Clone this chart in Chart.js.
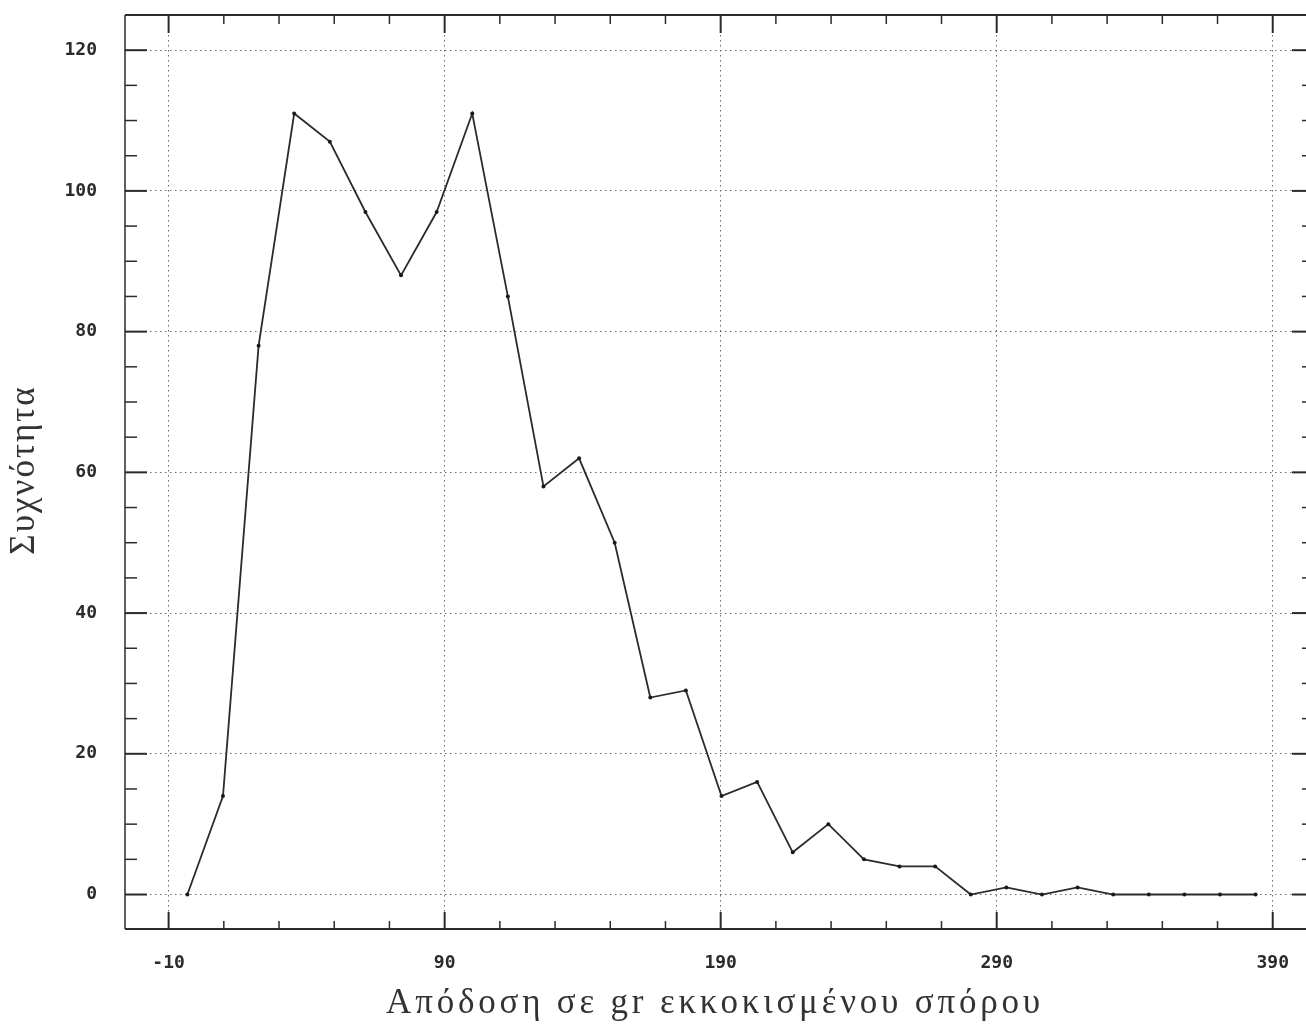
<!DOCTYPE html>
<html>
<head>
<meta charset="utf-8">
<title>Συχνότητα απόδοσης</title>
<script src="https://cdn.jsdelivr.net/npm/chart.js@4.4.1/dist/chart.umd.min.js"></script>
<style>
    html, body { margin: 0; padding: 0; background: #fff; overflow: hidden; }
    #wrap { width: 1306px; height: 1033px; }
</style>
</head>
<body>
<div id="wrap"><canvas id="freqChart" width="1306" height="1033"></canvas></div>
<script>
// class midpoints (gr) and frequencies
const yieldMidpoints = [-3.2, 9.7, 22.6, 35.5, 48.4, 61.3, 74.2, 87.1, 100.0, 112.9, 125.8,
    138.7, 151.6, 164.5, 177.4, 190.3, 203.2, 216.1, 229.0, 241.9, 254.8, 267.7, 280.6,
    293.5, 306.4, 319.3, 332.2, 345.1, 358.0, 370.9, 383.8];
const frequencies = [0, 14, 78, 111, 107, 97, 88, 97, 111, 85, 58,
    62, 50, 28, 29, 14, 16, 6, 10, 5, 4, 4, 0,
    1, 0, 1, 0, 0, 0, 0, 0];

const xMajorTicks = [-10, 90, 190, 290, 390];
const xMinorTicks = [10, 30, 50, 70, 110, 130, 150, 170, 210, 230, 250, 270, 310, 330, 350, 370];
const yMajorTicks = [0, 20, 40, 60, 80, 100, 120];
const yMinorTicks = [5, 10, 15, 25, 30, 35, 45, 50, 55, 65, 70, 75, 85, 90, 95, 105, 110, 115];

const xTitle = 'Απόδοση σε gr εκκοκισμένου σπόρου';
const yTitle = 'Συχνότητα';

const INK = '#2b2b2b';
const tickFont = { family: 'DejaVu Sans Mono', size: 18, weight: 'bold' };

// frame, inward tick marks and the two serif axis titles
const frameTicks = {
    id: 'frameTicks',
    afterDraw(chart) {
        const { ctx, chartArea: { left, top, bottom }, scales: { x, y } } = chart;
        const edge = chart.width; // frame runs off the right side of the page
        const line = (x1, y1, x2, y2) => {
            ctx.beginPath();
            ctx.moveTo(x1, y1);
            ctx.lineTo(x2, y2);
            ctx.stroke();
        };
        ctx.save();
        ctx.strokeStyle = INK;
        ctx.lineWidth = 2;
        line(left, top, edge, top);
        line(left, bottom, edge, bottom);
        ctx.lineWidth = 1.5;
        line(left, top, left, bottom);

        ctx.lineWidth = 2;
        xMajorTicks.forEach(v => {
            const px = x.getPixelForValue(v);
            line(px, bottom, px, bottom - 17);
            line(px, top, px, top + 18);
        });
        yMajorTicks.forEach(v => {
            const py = y.getPixelForValue(v);
            line(left, py, left + 22, py);
            line(edge, py, edge - 14, py);
        });
        ctx.lineWidth = 1.5;
        xMinorTicks.forEach(v => {
            const px = x.getPixelForValue(v);
            line(px, bottom, px, bottom - 8);
            line(px, top, px, top + 9);
        });
        yMinorTicks.forEach(v => {
            const py = y.getPixelForValue(v);
            line(left, py, left + 12, py);
            line(edge, py, edge - 4, py);
        });

        // axis titles
        ctx.fillStyle = '#333';
        ctx.font = '35px "Liberation Serif"';
        ctx.textAlign = 'center';
        ctx.textBaseline = 'middle';
        ctx.letterSpacing = '3.8px';
        ctx.fillText(xTitle, 715, 1004);
        ctx.translate(25, 470);
        ctx.rotate(-Math.PI / 2);
        ctx.letterSpacing = '2px';
        ctx.fillText(yTitle, 0, 0);
        ctx.restore();
    }
};

new Chart(document.getElementById('freqChart'), {
    type: 'line',
    data: {
        datasets: [{
            data: yieldMidpoints.map((v, i) => ({ x: v, y: frequencies[i] })),
            borderColor: INK,
            borderWidth: 1.8,
            pointRadius: 2,
            pointBackgroundColor: '#1a1a1a',
            pointBorderWidth: 0,
            tension: 0
        }]
    },
    options: {
        responsive: false,
        animation: false,
        layout: { padding: { top: 15, right: 0, bottom: 0, left: 0 } },
        plugins: {
            legend: { display: false },
            tooltip: { enabled: false }
        },
        scales: {
            x: {
                type: 'linear',
                min: -25.8,
                max: 400.6,
                afterBuildTicks: axis => { axis.ticks = xMajorTicks.map(v => ({ value: v })); },
                afterFit: axis => {
                    axis.height = 104;
                    axis.paddingLeft = 0;
                    axis.paddingRight = 0;
                },
                ticks: {
                    color: INK,
                    font: tickFont,
                    padding: 24,
                    maxRotation: 0,
                    callback: v => String(v)
                },
                grid: { color: '#6a6a6a', lineWidth: 1, drawTicks: false },
                border: { display: false, dash: [1.5, 3.5] }
            },
            y: {
                type: 'linear',
                min: -4.9,
                max: 125,
                afterBuildTicks: axis => { axis.ticks = yMajorTicks.map(v => ({ value: v })); },
                afterFit: axis => {
                    axis.width = 125;
                    axis.paddingTop = 0;
                    axis.paddingBottom = 0;
                },
                ticks: {
                    color: INK,
                    font: tickFont,
                    padding: 28,
                    callback: v => String(v)
                },
                grid: { color: '#6a6a6a', lineWidth: 1, drawTicks: false },
                border: { display: false, dash: [1.5, 3.5] }
            }
        }
    },
    plugins: [frameTicks]
});
</script>
</body>
</html>
